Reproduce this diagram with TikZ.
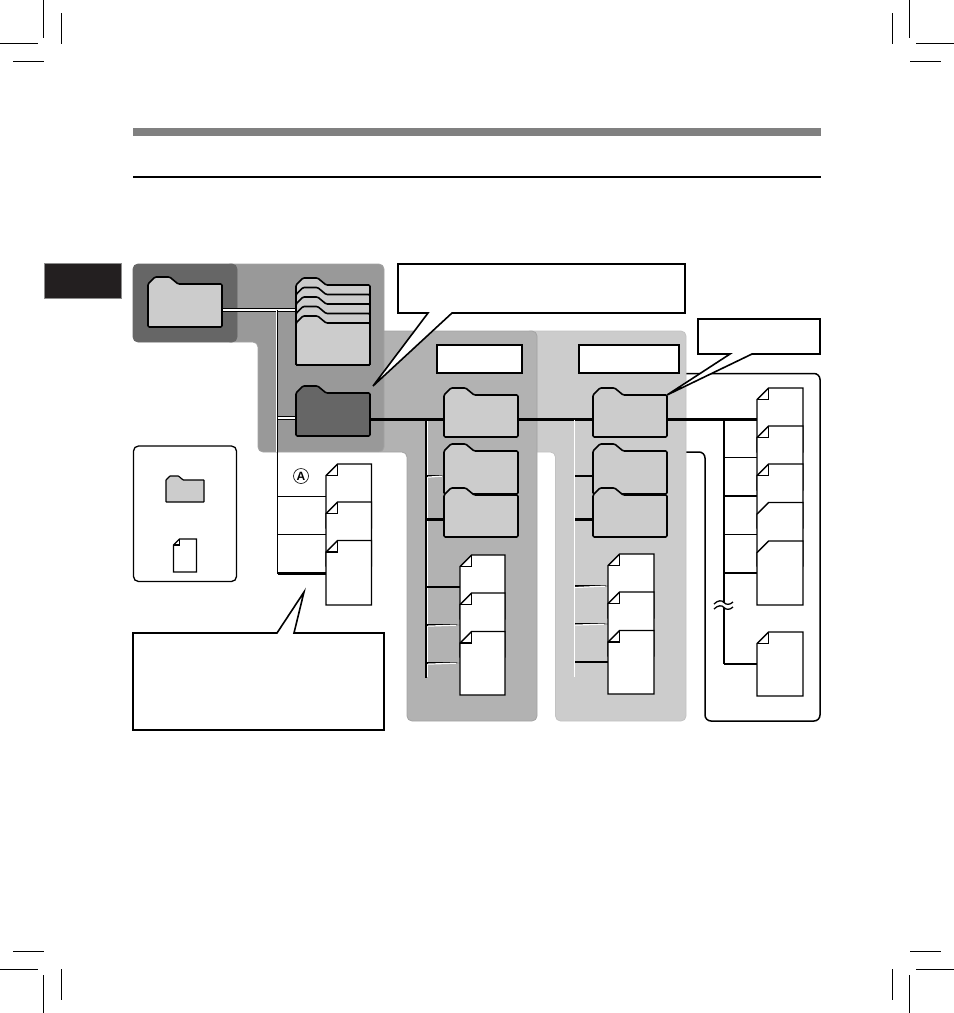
\documentclass[tikz,border=0pt]{standalone}
\usepackage{fontspec}
\setsansfont{Liberation Sans}
\definecolor{darkreg}{HTML}{666666}
\definecolor{midreg}{HTML}{999999}
\definecolor{softreg}{HTML}{B2B2B2}
\definecolor{lightreg}{HTML}{CCCCCC}
\definecolor{tabblack}{HTML}{231F20}
\pgfdeclarelayer{regions}
\pgfdeclarelayer{wires}
\pgfsetlayers{regions,wires,main}
\tikzset{
  cropmark/.style={black,line width=1pt},
  region/.style={rounded corners=5pt,line width=.8pt},
  outlinebox/.style={draw=black,fill=white,line width=1.5pt,rounded corners=6pt},
  folderline/.style={draw=black,line width=1.6pt,rounded corners=1.2pt,line join=round},
  docline/.style={draw=black,fill=white,line width=1.4pt,line join=miter},
  slot/.style={inner sep=0pt,outer sep=0pt,anchor=north west,draw=none,fill=none},
  wire/.style={black,line width=2.3pt},
  thinwire/.style={black,line width=1.2pt},
  whiteline/.style={white,line width=1.2pt},
  twoedge/.style={draw=black,double=white,double distance=1.3pt,line width=1pt},
  labelbox/.style={draw=black,fill=white,line width=1.7pt,inner sep=0pt,outer sep=0pt,anchor=north west},
  callout/.style={draw=black,fill=white,line width=1.6pt,line join=miter},
}
% name, x1, y1, x2, y2, tab height, fill
\newcommand{\folderat}[7]{%
  \draw[folderline,fill=#7] (#2,{#3+#6}) -- ({#2+#6},#3) -- ({#2+3.1*#6},#3) -- ({#2+4.3*#6},{#3+#6})
     -- (#4,{#3+#6}) -- (#4,#5) -- (#2,#5) -- cycle;
  \node[slot,minimum width={(#4-#2)*1pt},minimum height={(#5-#3)*1pt}] (#1) at (#2,#3) {};}
% name, x1, y1, x2, y2, fold
\newcommand{\docat}[6]{%
  \draw[docline] (#2,{#3+#6}) -- ({#2+#6},#3) -- (#4,#3) -- (#4,#5) -- (#2,#5) -- cycle;
  \draw[docline,fill=none] ({#2+#6},#3) -- ({#2+#6},{#3+#6}) -- (#2,{#3+#6});
  \node[slot,minimum width={(#4-#2)*1pt},minimum height={(#5-#3)*1pt}] (#1) at (#2,#3) {};}
\newcommand{\docplainat}[6]{%
  \draw[docline] (#2,{#3+#6}) -- ({#2+#6},#3) -- (#4,#3) -- (#4,#5) -- (#2,#5) -- cycle;
  \node[slot,minimum width={(#4-#2)*1pt},minimum height={(#5-#3)*1pt}] (#1) at (#2,#3) {};}
\begin{document}
\begin{tikzpicture}[x=1pt,y=-1pt]
\useasboundingbox (0,0) rectangle (954,1013);
% crop marks
\draw[cropmark] (43.5,0) -- (43.5,38) (61.5,13) -- (61.5,44) (0,43.5) -- (38,43.5) (13,61.5) -- (44,61.5);
\draw[cropmark] (909.5,0) -- (909.5,38) (892.5,13) -- (892.5,44) (916,43.5) -- (954,43.5) (910,61.5) -- (941,61.5);
\draw[cropmark] (13,951.5) -- (44,951.5) (0,969.5) -- (38,969.5) (61.5,969) -- (61.5,1000) (43.5,975) -- (43.5,1013);
\draw[cropmark] (910,951.5) -- (941,951.5) (916,969.5) -- (954,969.5) (892.5,969) -- (892.5,1000) (909.5,975) -- (909.5,1013);
% header
\fill[black!50] (133,128) rectangle (821,136);
\draw[black,line width=1.5pt] (133,177) -- (821,177);
\draw[draw=black!45,fill=tabblack,line width=1pt] (44,263.5) rectangle (121,298.5);
% regions
\begin{pgfonlayer}{regions}
\draw[outlinebox] (670,373.5) -- (820,373.5) -- (820,721) -- (705,721) -- (705,452) -- (670,452) -- cycle;
\filldraw[region,draw=black!24,fill=lightreg] (525,331) -- (686,331) -- (686,721) -- (555.5,721) -- (555.5,452) -- (525,452) -- cycle;
\filldraw[region,draw=black!36,fill=softreg] (375,331) -- (537,331) -- (537,721) -- (407,721) -- (407,452) -- (375,452) -- cycle;
\filldraw[region,draw=black!36,fill=midreg] (225,264) -- (384,264) -- (384,452) -- (258,452) -- (258,342) -- (225,342) -- cycle;
\filldraw[region,fill=darkreg,draw=darkreg] (133,264) rectangle (237,342);
\end{pgfonlayer}
% callouts
\draw[callout] (398,264) -- (685,264) -- (685,313) -- (452,313) -- (373,386) -- (428,313) -- (398,313) -- cycle;
\draw[callout] (698,319) -- (820,319) -- (820,354) -- (752,354) -- (667,395) -- (730,354) -- (698,354) -- cycle;
\draw[callout] (133,633) -- (277,633) -- (304,592) -- (294,633) -- (384,633) -- (384,730) -- (133,730) -- cycle;
\node[labelbox,minimum width=85pt,minimum height=28pt] (labelC) at (437,345) {};
\node[labelbox,minimum width=100pt,minimum height=28pt] (labelD) at (579,345) {};
% folders
\folderat{rootf}{148}{277}{222}{327}{7}{lightreg}
\folderat{stacka}{296}{278}{370}{365}{7}{lightreg}
\folderat{stackb}{296}{287.5}{370}{365}{7}{lightreg}
\folderat{stackc}{296}{297}{370}{365}{7}{lightreg}
\folderat{stackd}{296}{306.5}{370}{365}{7}{lightreg}
\folderat{stacke}{296}{316}{370}{365}{7}{lightreg}
\folderat{darkf}{296}{386}{370}{436}{7}{darkreg}
\folderat{cola}{444}{388}{518}{437}{7}{lightreg}
\folderat{colb}{444}{444}{518}{494}{7}{lightreg}
\folderat{colc}{444}{488}{518}{537}{7}{lightreg}
\folderat{cold}{593}{388}{667}{437}{7}{lightreg}
\folderat{cole}{593}{444}{667}{494}{7}{lightreg}
\folderat{colf}{593}{488}{667}{537}{7}{lightreg}
% documents
\docat{da}{326}{464}{371.5}{528}{11.5}
\docat{db}{326}{502}{371.5}{566}{11.5}
\docat{dc}{326}{540.5}{371.5}{605}{11.5}
\docat{ea}{460}{555}{505}{619}{11.5}
\docat{eb}{460}{593}{505}{657}{11.5}
\docat{ec}{460}{631.5}{505}{695}{11.5}
\docat{fa}{608}{554}{654}{618}{11.5}
\docat{fb}{608}{592}{654}{656}{11.5}
\docat{fc}{608}{630.5}{654}{694}{11.5}
\docat{ga}{757}{388}{803}{452}{11.5}
\docat{gb}{757}{426}{803}{490}{11.5}
\docat{gc}{757}{464}{803}{528}{11.5}
\docplainat{gd}{757}{502.5}{803}{566}{11.5}
\docplainat{ge}{757}{541}{803}{605}{11.5}
\docat{gf}{757}{632}{803}{696}{11.5}
% legend
\draw[draw=black,fill=white,line width=1.3pt,rounded corners=5pt] (133.5,446) rectangle (236.5,581.5);
\begin{scope}[folderline/.append style={rounded corners=.4pt,line width=1.2pt},docline/.append style={line width=1.1pt}]
\folderat{legf}{166}{476}{204}{502}{4}{lightreg}
\docat{legd}{173.5}{539}{196.5}{572}{6}
\end{scope}
% circled A
\node[draw=black,circle,line width=.6pt,inner sep=0pt,minimum size=15pt,font=\sffamily\bfseries\fontsize{12}{12}\selectfont] (markA) at (301,476) {A};
% connectors
\coordinate (ja) at (277.5,310);
\coordinate (jb) at (277.5,418);
\coordinate (jc) at (277.5,496.5);
\coordinate (jd) at (277.5,534.5);
\coordinate (je) at (277.5,573.5);
\coordinate (ka) at (426,419.5);
\coordinate (kb) at (426,476);
\coordinate (kc) at (426,519.5);
\coordinate (kd) at (426,587);
\coordinate (ke) at (426,625);
\coordinate (kf) at (426,663);
\coordinate (kg) at (426,678);
\coordinate (la) at (574.5,419.5);
\coordinate (lb) at (574.5,476);
\coordinate (lc) at (574.5,519.5);
\coordinate (ld) at (574.5,586);
\coordinate (le) at (574.5,624);
\coordinate (lf) at (574.5,662);
\coordinate (lg) at (574.5,677);
\coordinate (ma) at (724,419.5);
\coordinate (mb) at (724,457.5);
\coordinate (mc) at (724,496);
\coordinate (md) at (724,534.5);
\coordinate (me) at (724,573);
\coordinate (mf) at (724,664);
\begin{pgfonlayer}{wires}
% trunk A
\draw[twoedge] (rootf.east |- ja) -- (stacka.west |- ja);
\draw[black,line width=1.6pt] (ja) -- (je);
\draw[whiteline,line width=.8pt] (276,311) -- (276,452);
\draw[twoedge] (jb) -- (darkf.west |- jb);
\draw[thinwire] (jc) -- (dc.west |- jc);
\draw[thinwire] (jd) -- (dc.west |- jd);
\draw[wire] (je) -- (dc.west |- je);
% trunk B
\draw[wire] (darkf.east |- ka) -- (cola.west |- ka);
\draw[whiteline] (427.8,421) -- (427.8,677);
\draw[wire] (ka) -- (kg);
\draw[thinwire] (kb) -- (cola.west |- kb);
\draw[whiteline,yshift=-1.1pt] (428,476) -- (cola.west |- kb);
\draw[wire] (kc) -- (colc.west |- kc);
\draw[wire] (kd) -- (ea.west |- kd);
\draw[thinwire] (ke) -- (ea.west |- ke);
\draw[whiteline,yshift=-1.1pt] (428,625) -- (ea.west |- ke);
\draw[thinwire] (kf) -- (ea.west |- kf);
\draw[whiteline,yshift=-1.1pt] (428,663) -- (ea.west |- kf);
% trunk C
\draw[wire] (cola.east |- la) -- (cold.west |- la);
\draw[whiteline] (la) -- (lg);
\draw[thinwire] (575,476) -- (cold.west |- lb);
\draw[wire] (575,519.5) -- (colf.west |- lc);
\draw[wire] (575,586) -- (fa.west |- ld);
\draw[whiteline,yshift=-1.5pt] (575,586) -- (fa.west |- ld);
\draw[thinwire] (575,624) -- (fa.west |- le);
\draw[whiteline,yshift=-1.1pt] (575,624) -- (fa.west |- le);
\draw[wire] (575,662) -- (fa.west |- lf);
% trunk D
\draw[wire] (cold.east |- ma) -- (ga.west |- ma);
\draw[wire,line width=2.3pt] (ma) -- (mf);
\draw[wire,line width=1.8pt] (mb) -- (ga.west |- mb);
\draw[thinwire] (mc) -- (ga.west |- mc);
\draw[thinwire] (md) -- (ga.west |- md);
\draw[wire] (me) -- (ga.west |- me);
\draw[wire] (mf) -- (gf.west |- mf);
\end{pgfonlayer}
% break mark
\fill[white] (714,604) .. controls (718,600) and (722,600) .. (724,602.5) .. controls (726,605) and (730,605) .. (733,602) -- (733,607) .. controls (730,610) and (726,610) .. (724,607.5) .. controls (722,605) and (718,605) .. (714,609) -- cycle;
\draw[black,line width=1.3pt] (714,604) .. controls (718,600) and (722,600) .. (724,602.5) .. controls (726,605) and (730,605) .. (733,602);
\draw[black,line width=1.3pt] (714,609) .. controls (718,605) and (722,605) .. (724,607.5) .. controls (726,610) and (730,610) .. (733,607);
\end{tikzpicture}
\end{document}
